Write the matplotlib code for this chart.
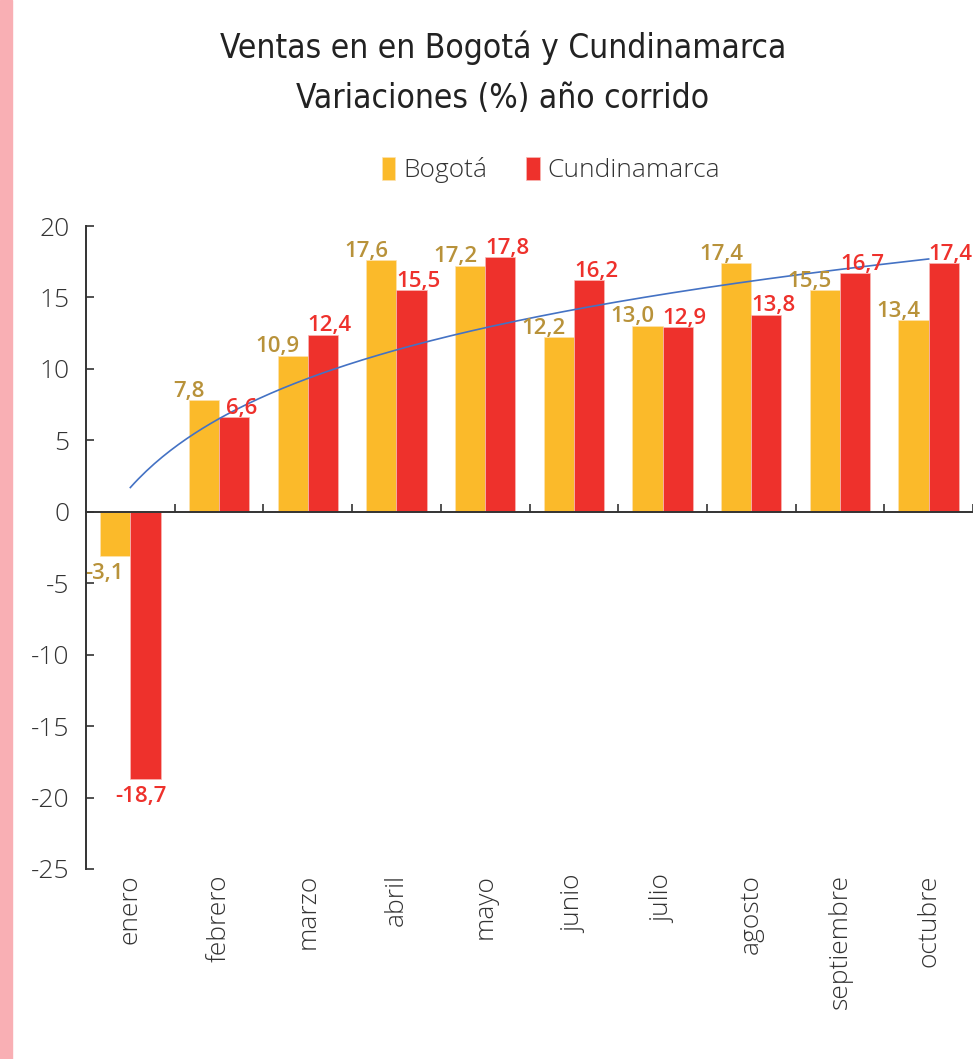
import numpy as np
import matplotlib
matplotlib.use("Agg")
import matplotlib.pyplot as plt
from matplotlib.patches import Rectangle

meses = ["enero", "febrero", "marzo", "abril", "mayo", "junio",
         "julio", "agosto", "septiembre", "octubre"]
bogota = [-3.1, 7.8, 10.9, 17.6, 17.2, 12.2, 13.0, 17.4, 15.5, 13.4]
cundinamarca = [-18.7, 6.6, 12.4, 15.5, 17.8, 16.2, 12.9, 13.8, 16.7, 17.4]

AMARILLO = "#FBBA2A"
ROJO = "#EE312C"
ORO = "#B8923A"
TEXTO = "#333333"
LIGERA = ["Open Sans", "DejaVu Sans"]

fig = plt.figure(figsize=(9.73, 10.59), dpi=100)
fig.patches.append(Rectangle((0, 0), 12 / 973, 1, transform=fig.transFigure,
                             color="#F9AFB4", zorder=-1))

ax = fig.add_axes([86 / 973, 1 - 869 / 1059, 887 / 973, (869 - 226) / 1059])

x = np.arange(len(meses))
w = 0.34
b1 = ax.bar(x - w / 2, bogota, w, color=AMARILLO, edgecolor="#FDE3B0", linewidth=0.5,
            label="Bogotá", zorder=2)
b2 = ax.bar(x + w / 2, cundinamarca, w, color=ROJO, edgecolor="#F8B9B6", linewidth=0.5,
            label="Cundinamarca", zorder=2)

# tendencia logaritmica (Bogotá)
lx = np.log(x + 1)
b, a = np.polyfit(lx, bogota, 1)
xs = np.linspace(0, len(meses) - 1, 200)
ax.plot(xs, a + b * np.log(xs + 1), color="#4472C4", lw=1.2, zorder=3)

lab_font = dict(family=["Open Sans", "DejaVu Sans"], weight="semibold", fontsize=16)
for i, (vb, vc) in enumerate(zip(bogota, cundinamarca)):
    tb = f"{vb:.1f}".replace(".", ",")
    tc = f"{vc:.1f}".replace(".", ",")
    if vb >= 0:
        ax.annotate(tb, (i - w / 2 - 0.17, vb), xytext=(0, -1), textcoords="offset points",
                    ha="center", va="bottom", color=ORO, zorder=4, **lab_font)
    else:
        ax.annotate(tb, (i - w / 2 - 0.12, vb), xytext=(0, -5), textcoords="offset points",
                    ha="center", va="top", color=ORO, zorder=4, **lab_font)
    if vc >= 0:
        ax.annotate(tc, (i + w / 2 + 0.08, vc), xytext=(0, -1), textcoords="offset points",
                    ha="center", va="bottom", color=ROJO, zorder=4, **lab_font)
    else:
        ax.annotate(tc, (i + w / 2 - 0.05, vc), xytext=(0, -5), textcoords="offset points",
                    ha="center", va="top", color=ROJO, zorder=4, **lab_font)

ax.set_xlim(-0.5, -0.5 + 887 / 90)
ax.set_ylim(-25, 20)
ax.set_yticks(np.arange(-25, 21, 5))
ax.set_yticklabels([str(v) for v in range(-25, 21, 5)])

ax.spines["top"].set_visible(False)
ax.spines["right"].set_visible(False)
ax.spines["bottom"].set_position(("data", 0))
for s in ("left", "bottom"):
    ax.spines[s].set_color(TEXTO)
    ax.spines[s].set_linewidth(1.4)
ax.spines["left"].set_zorder(5)

ax.set_xticks(np.arange(len(meses)) + 0.5)
ax.set_xticklabels([])
ax.tick_params(axis="x", direction="in", length=6, width=1.2, color=TEXTO)
ax.tick_params(axis="y", direction="in", length=6, width=1.2, color=TEXTO, pad=12,
               labelsize=19, labelcolor=TEXTO)
for t in ax.get_yticklabels():
    t.set_family(LIGERA)
    t.set_fontweight(300)

for i, m in enumerate(meses):
    ax.text(i, -0.008, m, transform=ax.get_xaxis_transform(), rotation=90,
            ha="center", va="top", fontsize=19, color=TEXTO,
            family=LIGERA, fontweight=300)

fig.text(503 / 973, 1 - 73 / 1059, "Ventas en en Bogotá y Cundinamarca\nVariaciones (%) año corrido",
         ha="center", va="center", fontsize=24, color="#222222", linespacing=1.65,
         family=["DejaVu Sans"], fontstretch="condensed", fontweight="light")

fig.legend(handles=[b1, b2], loc="center", bbox_to_anchor=(551 / 973, 1 - 170 / 1059),
           ncol=2, frameon=False, handlelength=0.5, handleheight=1.0, handletextpad=0.3,
           columnspacing=1.5, prop=dict(family=LIGERA, weight=300, size=19),
           labelcolor=TEXTO)

fig.savefig("out.png", dpi=100)
